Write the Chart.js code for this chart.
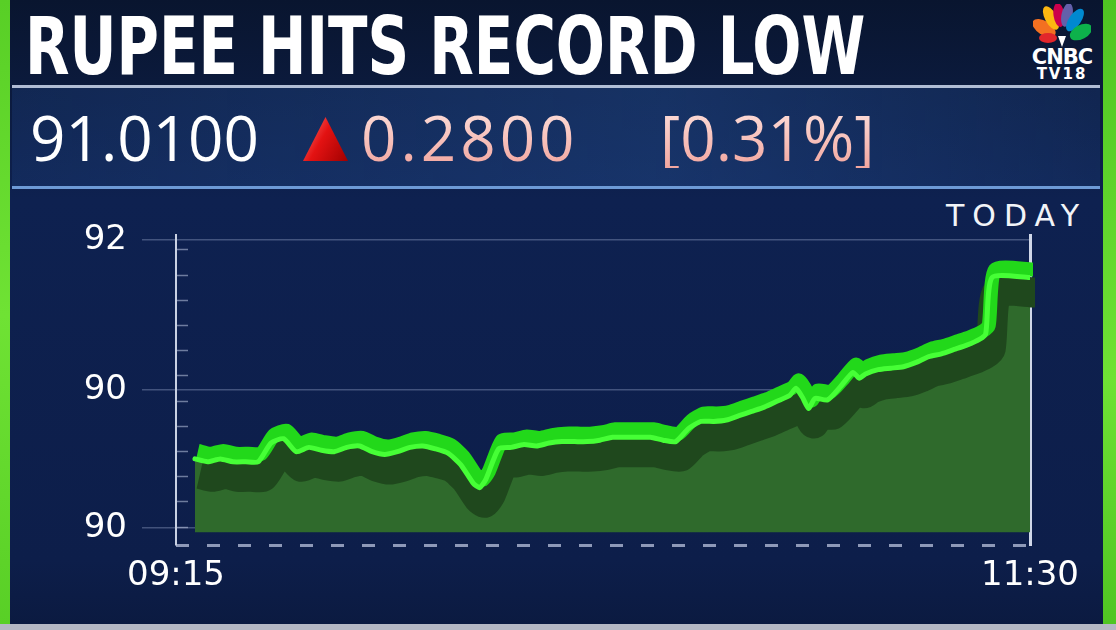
<!DOCTYPE html>
<html>
<head>
<meta charset="utf-8">
<script src="https://cdn.jsdelivr.net/npm/chart.js@4.4.1/dist/chart.umd.min.js"></script>
<style>
  body { margin:0; width:1116px; height:630px; overflow:hidden; position:relative;
    background: linear-gradient(#09152f 0px, #0b1a3c 85px, #0e2150 200px, #0d1e4a 560px, #0b1a40 630px);
    font-family: "Open Sans", sans-serif; color:#fff; }
  .abs { position:absolute; white-space:nowrap; }
  #title { left:25px; top:7px; font-family:"Liberation Sans Narrow","DejaVu Sans Condensed",sans-serif; font-weight:bold; font-size:80px; line-height:80px; transform-origin:0 0; }
  #bar { left:12px; top:85px; width:1088px; height:98px; border-top:3px solid rgba(205,215,235,0.85); border-bottom:3px solid #6d9ad6;
    background: linear-gradient(90deg, rgba(25,55,110,0.45), rgba(30,65,125,0.6) 60%, rgba(25,55,110,0.4)); }
  .px { font-size:62px; line-height:62px; top:106px; }
  #price { left:30px; color:#fff; }
  #chg { left:361px; letter-spacing:4px; }
  #pct { left:660px; }
  .pink { background: linear-gradient(#fde0dc, #f2a69f); -webkit-background-clip:text; background-clip:text; color:transparent; }
  #tri { left:303px; top:117px; width:45px; height:44px; clip-path:polygon(50% 0, 100% 100%, 0 100%);
    background: linear-gradient(120deg, #ff7b7b 0%, #e31212 45%, #a00000 100%); }
  #today { left:946px; top:201px; font-family:"DejaVu Sans",sans-serif; font-size:30px; line-height:30px; letter-spacing:8px; color:#f2f4f8; }
  #logo { left:1029px; top:4px; width:66px; text-align:center; font-family:"DejaVu Sans",sans-serif; font-weight:bold; }
  #logo svg { display:block; margin:0 auto; }
  #logo .t1 { font-size:21px; line-height:18px; letter-spacing:-1px; }
  #logo .t2 { font-size:15px; line-height:17px; letter-spacing:2px; }
  #gl { left:0; top:0; width:10px; height:630px; background:linear-gradient(#58cf26,#6fe234 50%,#58cf26); }
  #gr { left:1103px; top:0; width:13px; height:630px; background:linear-gradient(#4fc422,#6fe234 60%,#4fc422); }
  #gb { left:0; top:624px; width:1116px; height:6px; background:#b5b8c4; }
  #c { position:absolute; left:0; top:0; }
</style>
</head>
<body>
<div class="abs" id="gl"></div>
<div class="abs" id="gr"></div>
<div class="abs" id="gb"></div>
<div class="abs" id="title">RUPEE HITS RECORD LOW</div>
<div class="abs" id="logo">
  <svg width="58" height="44" viewBox="-29 -42 58 44">
    <ellipse cx="-18" cy="-18" rx="7" ry="13" fill="#f37021" transform="rotate(-58 -18 -18)"/>
    <ellipse cx="-11" cy="-28" rx="6" ry="13" fill="#fcb711" transform="rotate(-28 -11 -28)"/>
    <ellipse cx="-3" cy="-31" rx="5.5" ry="12" fill="#cc004c" transform="rotate(-8 -3 -31)"/>
    <ellipse cx="5" cy="-31" rx="5.5" ry="12" fill="#6460aa" transform="rotate(12 5 -31)"/>
    <ellipse cx="13" cy="-26" rx="6" ry="13" fill="#0089d0" transform="rotate(35 13 -26)"/>
    <ellipse cx="19" cy="-14" rx="7" ry="12" fill="#0db14b" transform="rotate(62 19 -14)"/>
    <ellipse cx="-14" cy="-8" rx="9" ry="5" fill="#e2262b"/>
    <path d="M0 1 L-4 -10 L4 -10 Z" fill="#fff"/>
  </svg>
  <div class="t1">CNBC</div>
  <div class="t2">TV18</div>
</div>
<div class="abs" id="bar"></div>
<div class="abs px" id="price">91.0100</div>
<div class="abs" id="tri"></div>
<div class="abs px pink" id="chg">0.2800</div>
<div class="abs px pink" id="pct">[0.31%]</div>
<div class="abs" id="today">TODAY</div>
<canvas id="c" width="1116" height="630"></canvas>
<script>
// minutes after 09:15
const times = [3, 5, 7, 9, 11, 13, 15, 17, 19, 21, 23, 25, 27, 29, 31, 33, 35, 37, 39, 41,
  43, 45, 47, 48, 49, 51, 53, 55, 57, 59, 61, 63, 65, 67, 69, 71, 73, 75, 77, 79,
  81, 83, 85, 87, 89, 91, 93, 95, 97, 98, 99, 100, 101, 103, 105, 107, 108, 109, 111, 113,
  115, 117, 119, 121, 123, 125, 127, 128, 129, 135];
const rates = [90.48, 90.46, 90.48, 90.46, 90.46, 90.46, 90.59, 90.62, 90.53, 90.56,
  90.54, 90.53, 90.56, 90.57, 90.53, 90.51, 90.53, 90.56, 90.57, 90.55,
  90.52, 90.44, 90.31, 90.28, 90.34, 90.55, 90.56, 90.58, 90.57, 90.59,
  90.60, 90.60, 90.60, 90.61, 90.63, 90.63, 90.63, 90.63, 90.61, 90.60,
  90.69, 90.74, 90.74, 90.75, 90.78, 90.81, 90.84, 90.88, 90.92, 90.97,
  90.91, 90.83, 90.90, 90.89, 90.98, 91.08, 91.04, 91.07, 91.10, 91.11,
  91.12, 91.15, 91.19, 91.21, 91.24, 91.27, 91.31, 91.35, 91.74, 91.74];

const yTickValues = [90, 90.96, 92];
const yTickLabels = ['90', '90', '92'];
const xTickValues = [0, 135];
const xTickLabels = ['09:15', '11:30'];
const yMin = 89.882, yMax = 92.035;

// squeeze the headline into the width it has on screen
const title = document.getElementById('title');
title.style.transform = 'scaleX(' + Math.min(1, 840 / title.scrollWidth) + ')';

const points = times.map((t, i) => ({ x: t, y: rates[i] }));

// shifts a dataset's drawing a few pixels (3D ribbon look)
const shiftPlugin = {
  id: 'shift',
  beforeDatasetDraw(chart, args) {
    const ds = chart.data.datasets[args.index];
    chart.ctx.save();
    if (ds.shiftY) chart.ctx.translate(ds.shiftX || 0, ds.shiftY);
  },
  afterDatasetDraw(chart) {
    chart.ctx.restore();
  }
};

const minorTicks = {
  id: 'minorTicks',
  beforeDatasetsDraw(chart) {
    const y = chart.scales.y, ctx = chart.ctx, x0 = chart.chartArea.left;
    ctx.save();
    ctx.strokeStyle = 'rgba(190,200,225,0.55)';
    ctx.lineWidth = 1.5;
    for (let v = 90.01; v < 92; v += 0.175) {
      const py = Math.round(y.getPixelForValue(v)) + 0.5;
      ctx.beginPath();
      ctx.moveTo(x0 + 1, py);
      ctx.lineTo(x0 + 12, py);
      ctx.stroke();
    }
    ctx.restore();
  }
};

const ctx = document.getElementById('c');

new Chart(ctx, {
  type: 'line',
  data: {
    datasets: [
      { data: points, borderColor: '#46ff36', borderWidth: 5, fill: false, order: 1,
        borderJoinStyle: 'round', borderCapStyle: 'round' },
      { data: points, borderColor: '#22d81a', borderWidth: 14, fill: false, order: 2,
        shiftX: 3, shiftY: -8, borderJoinStyle: 'round' },
      { data: points, borderColor: '#1f481d', borderWidth: 30, fill: false, order: 3,
        shiftX: 5, shiftY: 15, borderJoinStyle: 'round' },
      { data: points, borderWidth: 0, backgroundColor: '#2f6a2c', fill: { value: 89.97 }, order: 4 }
    ]
  },
  options: {
    responsive: false,
    animation: false,
    events: [],
    elements: { point: { radius: 0 }, line: { tension: 0.2 } },
    layout: { padding: { left: 76, right: 82, top: 235, bottom: 35 } },
    plugins: { legend: { display: false }, tooltip: { enabled: false } },
    scales: {
      x: {
        type: 'linear', min: 0, max: 135,
        afterBuildTicks: s => { s.ticks = xTickValues.map(v => ({ value: v })); },
        afterFit: s => { s.height = 50; },
        ticks: {
          callback: (v, i) => xTickLabels[i],
          color: '#ffffff', font: { family: 'DejaVu Sans', size: 34 },
          padding: 3, maxRotation: 0, autoSkip: false
        },
        grid: { display: false },
        border: { display: false }
      },
      // dashed base line along the bottom of the plot
      yBase: {
        position: 'left', min: yMin, max: yMax,
        afterBuildTicks: s => { s.ticks = [{ value: yMin }]; },
        afterFit: s => { s.width = 0; },
        ticks: { display: false },
        grid: { color: 'rgba(185,195,222,0.75)', lineWidth: 3, drawTicks: false },
        border: { display: false, dash: [13, 18] }
      },
      y: {
        min: yMin, max: yMax,
        afterBuildTicks: s => { s.ticks = yTickValues.map(v => ({ value: v })); },
        afterFit: s => { s.width = 100; },
        ticks: {
          callback: (v, i) => yTickLabels[i],
          color: '#ffffff', font: { family: 'DejaVu Sans', size: 34 }, padding: 15
        },
        grid: { color: 'rgba(165,180,215,0.35)', lineWidth: 1.5, tickLength: 34 },
        border: { color: '#c9d1e3', width: 2 }
      },
      yR: {
        position: 'right', min: 0, max: 1,
        afterFit: s => { s.width = 4; },
        ticks: { display: false },
        grid: { display: false },
        border: { color: '#d0d7e8', width: 3 }
      }
    }
  },
  plugins: [shiftPlugin, minorTicks]
});
</script>
</body>
</html>
